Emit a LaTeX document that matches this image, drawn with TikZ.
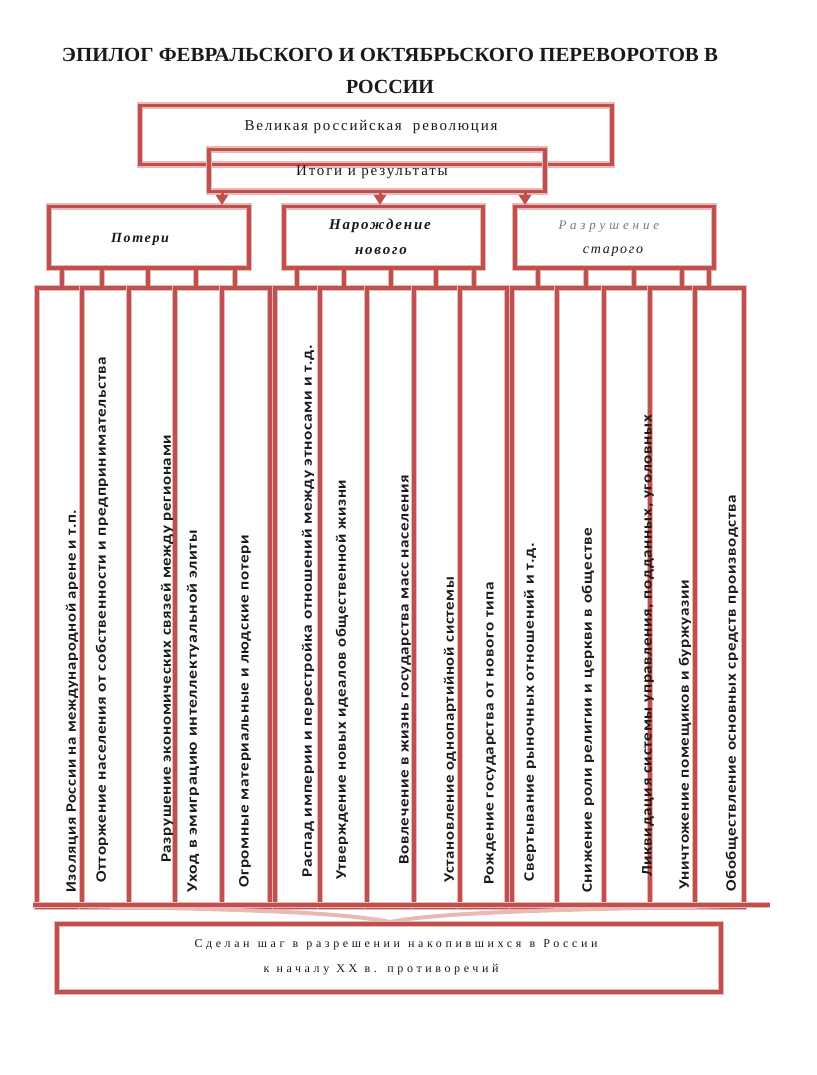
\documentclass[tikz,border=0pt]{standalone}
\usepackage{fontspec}
\setmainfont{Liberation Serif}
\newfontfamily\colfont[LetterSpace=4]{Carlito}
\newfontfamily\serifsp[LetterSpace=12]{Liberation Serif}
\newfontfamily\serifwide[LetterSpace=30]{Liberation Serif}
\usetikzlibrary{arrows.meta,calc}
\definecolor{redc}{RGB}{192,80,77}
\definecolor{pinkc}{RGB}{234,184,182}
\definecolor{txt}{RGB}{25,25,25}
\definecolor{grayt}{RGB}{120,120,120}
\newcommand\ctext[2]{\resizebox{#1pt}{\height}{\colfont\bfseries\fontsize{14.5}{17}\selectfont #2}}
\begin{document}
\begin{tikzpicture}[x=1pt,y=-1pt,
  redbox/.style={draw=redc,line width=3.5pt,preaction={draw=pinkc,line width=6.5pt},inner sep=0pt,anchor=north west},
  redline/.style={draw=redc,line width=4pt,preaction={draw=pinkc,line width=6.5pt}},
  arr/.style={draw=redc,line width=3pt,-{Triangle[length=10pt,width=12pt]}},
  coltxt/.style={rotate=90,anchor=west,inner sep=0pt,text=txt},
  lab/.style={inner sep=0pt,text=txt}]
\useasboundingbox[fill=white] (0,0) rectangle (816,1075);

% title
\node[lab,font=\bfseries\fontsize{20}{22}\selectfont] (title1) at (390,55) {\resizebox{656pt}{\height}{ЭПИЛОГ ФЕВРАЛЬСКОГО И ОКТЯБРЬСКОГО ПЕРЕВОРОТОВ В}};
\node[lab,font=\bfseries\fontsize{20}{22}\selectfont] (title2) at (390,87) {РОССИИ};

% top boxes
\node[redbox,minimum width=472pt,minimum height=59pt] (vel) at (138,104) {};
\node[lab,font=\serifsp\fontsize{15}{17}\selectfont] (velt) at (371,127) {Великая российская \ революция};
\node[redbox,minimum width=336pt,minimum height=42pt] (itg) at (207,148) {};
\node[lab,font=\serifsp\fontsize{15}{17}\selectfont] (itgt) at (372,172) {Итоги и результаты};

% category boxes
\node[redbox,minimum width=200pt,minimum height=61pt] (pot) at (47,205) {};
\node[redbox,minimum width=199pt,minimum height=61pt] (nar) at (282,205) {};
\node[redbox,minimum width=199pt,minimum height=61pt] (raz) at (513,205) {};
\node[lab,font=\serifsp\itshape\bfseries\fontsize{14}{16}\selectfont] (pott) at (140,239) {Потери};
\node[lab,font=\serifsp\itshape\bfseries\fontsize{15}{17}\selectfont] (nart1) at (380,226) {Нарождение};
\node[lab,font=\serifsp\itshape\bfseries\fontsize{15}{17}\selectfont] (nart2) at (381,251) {нового};
\node[lab,text=grayt,font=\serifwide\itshape\fontsize{13}{15}\selectfont] (razt1) at (609,227) {Разрушение};
\node[lab,font=\serifsp\itshape\fontsize{14}{16}\selectfont] (razt2) at (613,252) {старого};

% arrows from "Итоги"
\draw[arr] (itg.south -| 222,0) -- (pot.north -| 222,0);
\draw[arr] (itg.south -| 380,0) -- (nar.north -| 380,0);
\draw[arr] (itg.south -| 525,0) -- (raz.north -| 525,0);

% columns
\foreach \i/\a/\b in {1/35/80,2/80/127,3/127/173,4/173/220,5/220/268,
                      6/273/318,7/318/365,8/365/412,9/412/458,10/458/505,
                      11/510/555,12/555/602,13/602/648,14/648/693,15/693/742}
  \node[redbox,minimum width={\b-\a},minimum height=619pt] (c\i) at (\a,286) {};

% stubs
\foreach \x/\c/\g in {62/c1/pot,102/c2/pot,148/c3/pot,196/c4/pot,235/c5/pot,
                      297/c6/nar,344/c7/nar,391/c8/nar,436/c9/nar,474/c10/nar,
                      538/c11/raz,586/c12/raz,634/c13/raz,682/c14/raz,709/c15/raz}
  \draw[redline] (\g.south -| \x,0) -- (\c.north -| \x,0);

% column texts
\node[coltxt] (t1) at (72,893) {\ctext{383}{Изоляция России на международной арене и т.п.}};
\node[coltxt] (t2) at (102,883) {\ctext{526}{Отторжение населения от собственности и предпринимательства}};
\node[coltxt] (t3) at (167,863) {\ctext{428}{Разрушение экономических связей между регионами}};
\node[coltxt] (t4) at (193,893) {\ctext{363}{Уход в эмиграцию интеллектуальной элиты}};
\node[coltxt] (t5) at (245,888) {\ctext{353}{Огромные материальные и людские потери}};
\node[coltxt] (t6) at (308,878) {\ctext{533}{Распад империи и перестройка отношений между этносами и т.д.}};
\node[coltxt] (t7) at (342,880) {\ctext{400}{Утверждение новых идеалов общественной жизни}};
\node[coltxt] (t8) at (405,865) {\ctext{390}{Вовлечение в жизнь государства масс населения}};
\node[coltxt] (t9) at (450,883) {\ctext{306}{Установление однопартийной системы}};
\node[coltxt] (t10) at (490,885) {\ctext{303}{Рождение государства от нового типа}};
\node[coltxt] (t11) at (530,882) {\ctext{339}{Свертывание рыночных отношений и т.д.}};
\node[coltxt] (t12) at (588,893) {\ctext{365}{Снижение роли религии и церкви в обществе}};
\node[coltxt] (t13) at (648,877) {\ctext{462}{Ликвидация системы управления, подданных, уголовных}};
\node[coltxt] (t14) at (685,890) {\ctext{310}{Уничтожение помещиков и буржуазии}};
\node[coltxt] (t15) at (732,892) {\ctext{397}{Обобществление основных средств производства}};

% bottom line and brace
\coordinate (bl) at (33,905);
\coordinate (br) at (770,905);
\coordinate (bm) at (390,922);
\draw[pinkc,line width=4pt] (bl) .. controls (200,909) and (330,910) .. (bm) .. controls (450,910) and (620,909) .. (br);
\draw[redline] (bl) -- (br);

% result box
\node[redbox,minimum width=664pt,minimum height=68pt] (res) at (55,922) {};
\node[lab,font=\serifwide\fontsize{12}{14}\selectfont] (rest1) at (396,945) {\makebox[403pt][s]{Сделан шаг в разрешении накопившихся в России}};
\node[lab,font=\serifwide\fontsize{12}{14}\selectfont] (rest2) at (381,970) {\makebox[235pt][s]{к началу XX в. противоречий}};
\end{tikzpicture}
\end{document}
